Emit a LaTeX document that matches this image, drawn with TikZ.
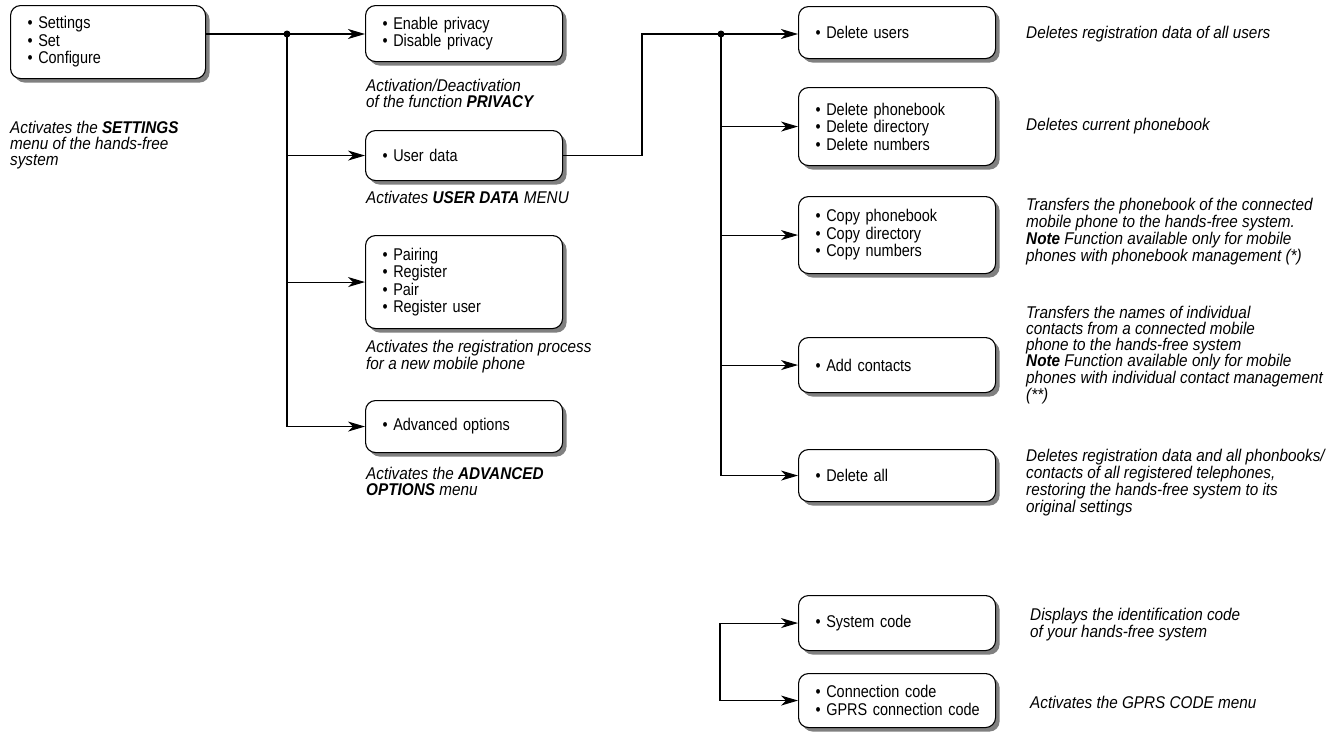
\documentclass[tikz,border=0pt]{standalone}
\usepackage{fontspec}
\setmainfont{Liberation Sans}
\newfontfamily\boxfont[FakeStretch=0.85,WordSpace=0.75]{Liberation Sans}
\newfontfamily\capfont[FakeStretch=0.9]{Liberation Sans}
\usetikzlibrary{arrows.meta,shadows}
\tikzset{
  menubox/.style={draw, line width=1.1pt, rounded corners=10pt, fill=white,
    anchor=north west, inner xsep=17pt, inner ysep=0pt, align=left,
    font=\boxfont\fontsize{17}{17.5}\selectfont,
    drop shadow={shadow xshift=4pt, shadow yshift=-4pt, fill=black!50, opacity=1}},
  colA/.style={menubox, text width=163pt},
  caption/.style={anchor=north west, inner sep=0pt, align=left,
    font=\capfont\itshape\fontsize{17}{15.8}\selectfont},
  conn/.style={line width=1.1pt},
  arr/.style={conn, -{Stealth[length=17pt, width=10pt, inset=5pt]}},
  jdot/.style={circle, fill=black, inner sep=0pt, minimum size=7pt}
}
\begin{document}
\begin{tikzpicture}[x=1pt, y=-1pt]
\useasboundingbox (0,0) rectangle (1338,736);
% boxes
\node[menubox, text width=161pt, minimum height=73pt] (b1) at (10,5)
  {\textbullet\ Settings\\\textbullet\ Set\\\textbullet\ Configure};
\node[colA, minimum height=56pt] (enable) at (365,5)
  {\textbullet\ Enable privacy\\\textbullet\ Disable privacy};
\node[colA, minimum height=50pt] (user) at (365,130) {\textbullet\ User data};
\node[colA, minimum height=93pt] (pair) at (365,235)
  {\textbullet\ Pairing\\\textbullet\ Register\\\textbullet\ Pair\\\textbullet\ Register user};
\node[colA, minimum height=52pt] (adv) at (365,400) {\textbullet\ Advanced options};

\node[colA, minimum height=52pt] (delusers) at (798,6) {\textbullet\ Delete users};
\node[colA, minimum height=78pt] (delphone) at (798,87)
  {\textbullet\ Delete phonebook\\\textbullet\ Delete directory\\\textbullet\ Delete numbers};
\node[colA, minimum height=77pt] (copy) at (798,196)
  {\textbullet\ Copy phonebook\\\textbullet\ Copy directory\\\textbullet\ Copy numbers};
\node[colA, minimum height=55pt] (add) at (798,337) {\textbullet\ Add contacts};
\node[colA, minimum height=52pt] (delall) at (798,449) {\textbullet\ Delete all};
\node[colA, minimum height=55pt] (sys) at (798,595) {\textbullet\ System code};
\node[colA, minimum height=54pt] (gprs) at (798,673)
  {\mbox{\textbullet\ Connection code}\\\mbox{\textbullet\ GPRS connection code}};

% captions
\node[caption] (c1) at (10,121) {Activates the \textbf{SETTINGS}\\menu of the hands-free\\system};
\node[caption] (cpriv) at (366,79) {Activation/Deactivation\\of the function \textbf{PRIVACY}};
\node[caption] (cuser) at (366,191) {Activates \textbf{USER DATA} MENU};
\node[caption] (cpair) at (366,340) {Activates the registration process\\for a new mobile phone};
\node[caption] (cadv) at (366,467) {Activates the \textbf{ADVANCED}\\\textbf{OPTIONS} menu};
\node[caption] (cdu) at (1026,26) {Deletes registration data of all users};
\node[caption] (cdp) at (1026,118) {Deletes current phonebook};
\node[caption] (ccopy) at (1026,198) {Transfers the phonebook of the connected\\mobile phone to the hands-free system.\\\textbf{Note} Function available only for mobile\\phones with phonebook management (*)};
\node[caption] (cadd) at (1026,306) {Transfers the names of individual\\contacts from a connected mobile\\phone to the hands-free system\\\textbf{Note} Function available only for mobile\\phones with individual contact management\\(**)};
\node[caption] (cda) at (1026,449) {Deletes registration data and all phonbooks/\\contacts of all registered telephones,\\restoring the hands-free system to its\\original settings};
\node[caption] (csys) at (1030,608) {Displays the identification code\\of your hands-free system};
\node[caption] (cgprs) at (1030,696) {Activates the GPRS CODE menu};

% connectors, left trunk
\coordinate (jA) at (287,34);
\draw[arr] (b1.east |- jA) -- (enable.west |- jA);
\draw[arr] (jA) |- (user.west);
\draw[arr] (jA) |- (pair.west);
\draw[arr] (jA) |- (adv.west);
\node[jdot] at (jA) {};

% user data trunk
\coordinate (kB) at (642,34);
\coordinate (jB) at (721,34);
\draw[conn] (user.east) -| (kB) -- (jB);
\draw[arr] (jB) -- (delusers.west |- jB);
\draw[arr] (jB) |- (delphone.west);
\draw[arr] (jB) |- (copy.west);
\draw[arr] (jB) |- (add.west);
\draw[arr] (jB) |- (delall.west);
\node[jdot] at (jB) {};

% code bracket
\coordinate (jC) at (720,622);
\draw[arr] (jC |- sys.west) -- (sys.west);
\draw[arr] (jC |- sys.west) |- (gprs.west);
\end{tikzpicture}
\end{document}
